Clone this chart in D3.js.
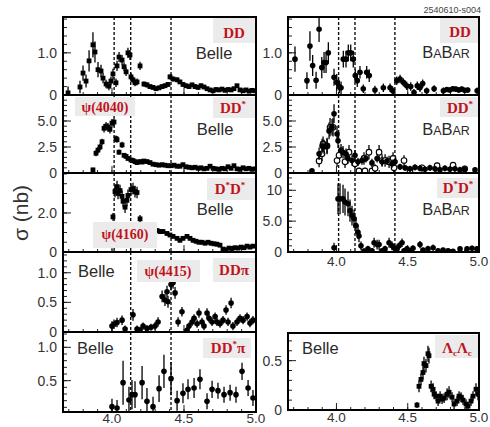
<!DOCTYPE html>
<html>
<head>
<meta charset="utf-8">
<script src="https://cdn.jsdelivr.net/npm/d3@7"></script>
<style>
  body { margin: 0; background: #fff; }
  svg { display: block; }
</style>
</head>
<body>
<div id="chart"></div>
<script>
// resonance positions (GeV) drawn as dashed lines
const resonances = [4.015, 4.13, 4.41];
const xMajor = [4.0, 4.5, 5.0];

// each point: [sqrt(s) GeV, sigma nb, error nb]
const belleDD = [[3.695,0.05,0.15],[3.778,0.19,0.15],[3.799,0.52,0.18],[3.82,0.33,0.15],[3.841,0.81,0.25],[3.868,1.19,0.3],[3.882,1.02,0.25],[3.903,0.6,0.18],[3.924,0.57,0.15],[3.938,0.4,0.12],[3.959,0.26,0.1],[3.979,0.21,0.1],[3.993,0.33,0.1],[4.007,0.5,0.12],[4.028,0.29,0.1],[4.035,0.69,0.12],[4.049,0.9,0.12],[4.07,0.83,0.12],[4.084,0.67,0.1],[4.098,0.55,0.1],[4.111,1.0,0.12],[4.125,0.95,0.12],[4.132,0.43,0.1],[4.146,0.36,0.08],[4.16,0.29,0.08],[4.174,0.31,0.08],[4.195,0.69,0.1],[4.222,0.26,0.06],[4.243,0.24,0.06],[4.264,0.2,0.05],[4.285,0.18,0.05],[4.306,0.15,0.05],[4.327,0.17,0.05],[4.348,0.2,0.05],[4.368,0.22,0.05],[4.389,0.25,0.05],[4.403,0.43,0.06],[4.424,0.38,0.06],[4.452,0.36,0.06],[4.472,0.31,0.05],[4.493,0.25,0.05],[4.514,0.22,0.05],[4.535,0.2,0.05],[4.556,0.24,0.05],[4.577,0.2,0.05],[4.598,0.18,0.05],[4.618,0.22,0.05],[4.639,0.19,0.05],[4.66,0.15,0.04],[4.681,0.12,0.04],[4.702,0.1,0.04],[4.722,0.13,0.04],[4.743,0.12,0.04],[4.764,0.14,0.04],[4.785,0.11,0.04],[4.806,0.13,0.04],[4.827,0.12,0.04],[4.847,0.15,0.04],[4.868,0.22,0.04],[4.889,0.12,0.04],[4.91,0.1,0.04],[4.931,0.12,0.04],[4.952,0.09,0.04],[4.972,0.11,0.04],[4.993,0.1,0.04]];

const belleDDst = [[3.868,0.3,0.2],[3.889,1.9,0.3],[3.903,2.2,0.3],[3.917,2.5,0.3],[3.931,3.0,0.3],[3.945,4.3,0.4],[3.959,4.5,0.4],[3.972,4.4,0.4],[3.986,4.2,0.4],[4.0,4.8,0.4],[4.014,4.9,0.4],[4.028,3.3,0.3],[4.035,3.2,0.3],[4.049,2.0,0.25],[4.07,2.7,0.3],[4.084,1.7,0.2],[4.098,1.6,0.2],[4.111,1.4,0.2],[4.132,1.25,0.15],[4.146,1.2,0.15],[4.16,1.1,0.15],[4.174,1.0,0.15],[4.195,1.1,0.15],[4.209,1.05,0.15],[4.222,1.15,0.15],[4.243,1.1,0.15],[4.264,1.0,0.15],[4.285,0.85,0.15],[4.306,0.8,0.15],[4.327,0.75,0.15],[4.348,0.8,0.15],[4.368,0.75,0.15],[4.389,0.7,0.15],[4.41,0.7,0.15],[4.431,0.75,0.15],[4.452,0.65,0.15],[4.472,0.65,0.15],[4.493,0.8,0.15],[4.514,0.6,0.15],[4.535,0.55,0.15],[4.556,0.5,0.15],[4.577,0.55,0.15],[4.598,0.45,0.15],[4.618,0.5,0.15],[4.639,0.4,0.15],[4.66,0.45,0.15],[4.681,0.65,0.15],[4.702,0.45,0.15],[4.722,0.4,0.15],[4.743,0.35,0.15],[4.764,0.45,0.15],[4.785,0.4,0.15],[4.806,0.6,0.15],[4.827,0.45,0.15],[4.847,0.7,0.15],[4.868,0.4,0.15],[4.889,0.35,0.15],[4.91,0.5,0.15],[4.931,0.4,0.15],[4.952,0.45,0.15],[4.972,0.35,0.15],[4.993,0.4,0.15]];

const belleDstDst = [[4.007,1.8,0.2],[4.021,3.1,0.3],[4.035,3.35,0.3],[4.042,3.0,0.3],[4.056,3.15,0.3],[4.07,2.85,0.3],[4.077,2.6,0.3],[4.091,2.3,0.3],[4.104,2.65,0.3],[4.111,2.9,0.3],[4.132,3.2,0.3],[4.146,3.25,0.3],[4.16,3.1,0.3],[4.174,3.05,0.3],[4.195,1.7,0.2],[4.313,1.1,0.1],[4.334,1.05,0.1],[4.354,1.05,0.1],[4.382,0.95,0.1],[4.403,0.87,0.1],[4.424,0.8,0.1],[4.452,0.7,0.1],[4.472,0.6,0.1],[4.493,0.7,0.1],[4.521,0.8,0.1],[4.542,0.7,0.1],[4.563,0.6,0.1],[4.584,0.55,0.1],[4.604,0.5,0.1],[4.625,0.5,0.1],[4.646,0.45,0.1],[4.667,0.5,0.1],[4.688,0.45,0.1],[4.709,0.42,0.1],[4.729,0.4,0.1],[4.75,0.35,0.1],[4.771,0.15,0.08],[4.792,0.12,0.08],[4.813,0.2,0.08],[4.833,0.18,0.08],[4.854,0.22,0.08],[4.875,0.2,0.08],[4.896,0.25,0.08],[4.917,0.22,0.08],[4.938,0.3,0.08],[4.958,0.25,0.08],[4.979,0.3,0.08]];

const belleDDpi = [[4.0,0.1,0.08],[4.014,0.13,0.08],[4.035,0.16,0.08],[4.07,0.2,0.08],[4.091,0.05,0.06],[4.146,0.29,0.1],[4.174,0.05,0.06],[4.195,0.03,0.06],[4.216,0.1,0.06],[4.243,0.06,0.06],[4.271,0.08,0.06],[4.299,0.1,0.07],[4.32,0.17,0.08],[4.348,0.6,0.1],[4.368,0.54,0.1],[4.382,0.68,0.1],[4.389,0.51,0.1],[4.41,0.8,0.1],[4.424,0.83,0.1],[4.438,0.66,0.1],[4.459,0.17,0.08],[4.486,0.34,0.08],[4.521,0.03,0.06],[4.535,0.1,0.06],[4.556,0.17,0.07],[4.57,0.23,0.07],[4.591,0.14,0.07],[4.604,0.32,0.08],[4.625,0.17,0.07],[4.639,0.1,0.07],[4.66,0.32,0.08],[4.674,0.23,0.07],[4.695,0.17,0.07],[4.716,0.26,0.07],[4.729,0.17,0.07],[4.75,0.14,0.07],[4.771,0.2,0.07],[4.792,0.37,0.08],[4.806,0.17,0.07],[4.827,0.49,0.09],[4.84,0.1,0.07],[4.868,0.17,0.07],[4.889,0.23,0.07],[4.91,0.2,0.07],[4.938,0.26,0.07],[4.958,0.15,0.07],[4.979,0.2,0.07]];

const belleDDstPi = [[4.0,0.11,0.12],[4.035,0.09,0.12],[4.077,0.47,0.33],[4.118,0.21,0.2],[4.139,0.29,0.22],[4.16,0.29,0.2],[4.209,0.47,0.25],[4.243,0.19,0.2],[4.285,0.11,0.15],[4.327,0.38,0.2],[4.361,0.64,0.25],[4.41,0.53,0.25],[4.452,0.2,0.15],[4.493,0.31,0.15],[4.528,0.37,0.15],[4.57,0.39,0.15],[4.611,0.52,0.15],[4.66,0.19,0.12],[4.695,0.37,0.13],[4.736,0.35,0.12],[4.778,0.29,0.12],[4.82,0.32,0.12],[4.861,0.29,0.12],[4.903,0.64,0.13],[4.945,0.39,0.12],[4.979,0.24,0.12]];

const babarDD = [[3.709,0.85,0.3],[3.793,0.34,0.2],[3.814,1.16,0.35],[3.833,0.7,0.25],[3.857,0.35,0.2],[3.878,1.56,0.3],[3.897,0.65,0.25],[3.913,0.77,0.25],[3.927,0.77,0.25],[3.943,1.0,0.25],[3.983,0.42,0.2],[4.002,0.3,0.2],[4.02,0.2,0.15],[4.032,0.17,0.15],[4.048,0.85,0.2],[4.067,0.85,0.2],[4.083,1.0,0.2],[4.1,1.0,0.2],[4.118,0.85,0.2],[4.132,0.46,0.15],[4.146,0.34,0.15],[4.165,0.54,0.15],[4.188,0.15,0.1],[4.212,0.54,0.15],[4.23,0.46,0.15],[4.27,0.12,0.1],[4.329,0.17,0.1],[4.376,0.17,0.1],[4.395,0.1,0.1],[4.423,0.34,0.1],[4.446,0.38,0.1],[4.469,0.3,0.1],[4.493,0.22,0.1],[4.521,0.2,0.1],[4.544,0.06,0.08],[4.567,0.22,0.1],[4.586,0.17,0.1],[4.605,0.27,0.1],[4.633,0.1,0.08],[4.685,0.15,0.08],[4.75,0.1,0.08],[4.774,0.13,0.06],[4.795,0.12,0.06],[4.816,0.15,0.06],[4.837,0.14,0.06],[4.858,0.12,0.06],[4.879,0.14,0.06],[4.9,0.11,0.06],[4.921,0.12,0.06],[4.987,0.1,0.08]];

const babarDDst = [[3.828,0.2,0.1],[3.878,1.85,0.6],[3.899,2.6,0.7],[3.913,2.5,0.7],[3.934,2.6,0.7],[3.948,4.05,0.8],[3.969,4.4,0.8],[3.983,5.7,0.9],[4.004,3.75,0.8],[4.011,3.1,0.7],[4.032,2.2,0.6],[4.046,2.0,0.6],[4.067,1.85,0.5],[4.081,1.4,0.5],[4.109,1.2,0.5],[4.13,1.7,0.5],[4.151,1.07,0.4],[4.179,1.2,0.4],[4.207,1.4,0.4],[4.249,0.97,0.4],[4.285,1.4,0.4],[4.32,1.07,0.4],[4.355,1.16,0.4],[4.39,0.9,0.4],[4.411,1.07,0.4],[4.446,0.6,0.3],[4.481,0.5,0.3],[4.516,0.4,0.3],[4.551,0.55,0.3],[4.586,0.45,0.3],[4.621,0.35,0.3],[4.656,0.5,0.3],[4.691,0.4,0.3],[4.726,0.3,0.3],[4.761,0.45,0.3],[4.796,0.35,0.3],[4.831,0.4,0.3],[4.866,0.3,0.3],[4.9,0.35,0.3],[4.972,0.3,0.2]];

const babarDDstOpen = [[3.878,1.16,0.6],[3.899,1.85,0.7],[3.906,2.8,0.7],[3.934,2.6,0.8],[3.955,4.4,0.9],[3.976,4.4,0.9],[4.004,1.2,0.6],[4.018,1.7,0.6],[4.06,1.07,0.6],[4.088,2.0,0.7],[4.13,0.9,0.6],[4.158,0.2,0.3],[4.193,1.4,0.6],[4.2,0.2,0.3],[4.228,2.0,0.7],[4.249,0.2,0.3],[4.271,0.45,0.4],[4.299,2.0,0.7],[4.32,1.2,0.6],[4.341,1.2,0.6],[4.369,1.07,0.6],[4.397,1.4,0.6],[4.404,0.5,0.4],[4.474,1.2,0.5],[4.516,0.2,0.3],[4.6,0.5,0.3],[4.706,0.7,0.3],[4.818,0.75,0.3],[4.9,0.4,0.3]];

const babarDstDst = [[3.983,0.7,0.8],[4.011,8.6,2.5],[4.025,8.6,2.5],[4.046,8.6,2.3],[4.06,8.1,2.2],[4.081,7.8,2.0],[4.095,6.7,1.8],[4.109,5.9,1.6],[4.123,5.4,1.5],[4.137,4.3,1.3],[4.151,3.2,1.1],[4.158,2.6,1.0],[4.172,1.0,0.7],[4.193,0.15,0.4],[4.221,0.5,0.5],[4.249,0.2,0.4],[4.264,1.5,0.8],[4.285,1.2,0.8],[4.299,1.2,0.8],[4.32,0.2,0.4],[4.341,0.5,0.5],[4.369,1.5,0.8],[4.39,1.0,0.7],[4.404,0.7,0.6],[4.425,0.5,0.5],[4.439,1.0,0.6],[4.46,1.5,0.7],[4.474,0.2,0.4],[4.495,0.5,0.5],[4.516,0.2,0.4],[4.537,0.6,0.5],[4.586,1.2,0.6],[4.607,0.3,0.4],[4.642,0.5,0.5],[4.678,0.7,0.5],[4.713,0.2,0.4],[4.748,0.3,0.4],[4.783,0.2,0.4],[4.818,0.1,0.3],[4.867,0.5,0.4],[4.916,0.5,0.4],[4.951,0.6,0.4],[4.986,0.5,0.4]];

const belleLcLc = [[4.565,0.05,0.03],[4.579,0.24,0.06],[4.593,0.31,0.06],[4.607,0.38,0.07],[4.614,0.47,0.07],[4.628,0.45,0.07],[4.642,0.57,0.08],[4.649,0.55,0.08],[4.664,0.24,0.06],[4.678,0.21,0.06],[4.685,0.16,0.05],[4.699,0.14,0.05],[4.713,0.09,0.05],[4.727,0.14,0.05],[4.741,0.11,0.05],[4.755,0.12,0.05],[4.776,0.16,0.06],[4.79,0.18,0.06],[4.811,0.13,0.05],[4.825,0.06,0.05],[4.846,0.09,0.05],[4.86,0.14,0.05],[4.874,0.13,0.05],[4.888,0.1,0.05],[4.909,0.06,0.05],[4.923,0.04,0.04],[4.944,0.09,0.05],[4.958,0.14,0.05],[4.979,0.21,0.06],[4.993,0.16,0.06]];

const width = 490, height = 427;
const red = "#c1121c";
const boxFill = "#ebebeb";

const svg = d3.select("#chart").append("svg")
    .attr("width", width)
    .attr("height", height)
    .style("font-family", "'Liberation Sans', Arial, Helvetica, sans-serif");

// two columns share the same energy range
const cols = [
    { x0: 63, x1: 256 },
    { x0: 288, x1: 479 }
];
const xDomain = [3.66, 5.0];

// label parts: [text, "sup"|"sub"]
const panels = [
    { col: 0, top: 17, bottom: 95, y: [0, 1.85], ticks: [0, 1.0], minor: 0.2,
      series: [{ data: belleDD, m: "square" }], lines: resonances,
      exp: { name: "Belle", x: 214, y: 59, anchor: "middle" },
      tags: [{ parts: [["D"], ["D"]], box: [213, 18, 43, 25], x: 234, y: 38 }] },
    { col: 0, top: 95, bottom: 173, y: [0, 7.5], ticks: [0, 2.5, 5.0], minor: 0.5,
      series: [{ data: belleDDst, m: "square" }], lines: resonances,
      exp: { name: "Belle", x: 215, y: 135, anchor: "middle" },
      tags: [{ parts: [["D"], ["D"], ["*", "sup"]], box: [213, 97, 43, 21], x: 233, y: 113 },
             { parts: [["ψ(4040)"]], box: [75, 97, 60, 19], x: 105, y: 112, psi: true }] },
    { col: 0, top: 173, bottom: 252, y: [0, 4.05], ticks: [0, 2.0], minor: 0.5,
      series: [{ data: belleDstDst, m: "square" }], lines: resonances,
      exp: { name: "Belle", x: 215, y: 215, anchor: "middle" },
      tags: [{ parts: [["D"], ["*", "sup"], ["D"], ["*", "sup"]], box: [207, 178, 49, 22], x: 230, y: 194 },
             { parts: [["ψ(4160)"]], box: [93, 222, 64, 26], x: 125, y: 239, psi: true }] },
    { col: 0, top: 252, bottom: 332, y: [0, 1.35], ticks: [0, 0.5, 1.0], minor: 0.1,
      series: [{ data: belleDDpi, m: "dot" }], lines: resonances.slice(1),
      exp: { name: "Belle", x: 78, y: 277, anchor: "start" },
      tags: [{ parts: [["ψ(4415)"]], box: [137, 260, 63, 22], x: 168, y: 276, psi: true },
             { parts: [["DDπ"]], box: [213, 258, 43, 24], x: 234, y: 275 }] },
    { col: 0, top: 332, bottom: 412, y: [0.03, 1.23], ticks: [0.5, 1.0], minor: 0.1,
      series: [{ data: belleDDstPi, m: "dot" }], lines: resonances.slice(1), xLabels: 423,
      exp: { name: "Belle", x: 77, y: 354, anchor: "start" },
      tags: [{ parts: [["DD"], ["*", "sup"], ["π"]], box: [203, 338, 48, 20], x: 228, y: 353 }] },
    { col: 1, top: 17, bottom: 95, y: [0, 1.85], ticks: [0, 1.0], minor: 0.2,
      series: [{ data: babarDD, m: "dot" }], lines: resonances,
      exp: { name: "BaBar", x: 446, y: 58 },
      tags: [{ parts: [["D"], ["D"]], box: [440, 18, 38, 25], x: 460, y: 37 }] },
    { col: 1, top: 95, bottom: 173, y: [0, 7.5], ticks: [0, 2.5, 5.0], minor: 0.5,
      series: [{ data: babarDDstOpen, m: "open" }, { data: babarDDst, m: "dot" }], lines: resonances,
      exp: { name: "BaBar", x: 446, y: 135 },
      tags: [{ parts: [["D"], ["D"], ["*", "sup"]], box: [440, 97, 38, 20], x: 460, y: 113 }] },
    { col: 1, top: 173, bottom: 252, y: [0, 12.8], ticks: [0, 5.0, 10], minor: 1,
      series: [{ data: babarDstDst, m: "dot" }], lines: resonances, xLabels: 266,
      exp: { name: "BaBar", x: 446, y: 215 },
      tags: [{ parts: [["D"], ["*", "sup"], ["D"], ["*", "sup"]], box: [437, 178, 41, 20], x: 458, y: 193 }] },
    { col: 1, top: 333, bottom: 410, y: [0, 0.78], ticks: [0, 0.5], minor: 0.1,
      series: [{ data: belleLcLc, m: "square" }], lines: [], xLabels: 422,
      exp: { name: "Belle", x: 302, y: 354, anchor: "start" },
      tags: [{ parts: [["Λ"], ["c", "sub"], ["Λ"], ["c", "sub"]], box: [435, 335, 43, 23], x: 457, y: 353 }] }
];

const fmt = v => v === 0 ? "0" : (v >= 10 ? String(v) : v.toFixed(1));

panels.forEach((p, i) => {
    const c = cols[p.col];
    const x = d3.scaleLinear().domain(xDomain).range([c.x0, c.x1]);
    const y = d3.scaleLinear().domain(p.y).range([p.bottom, p.top]);
    const g = svg.append("g");

    g.append("clipPath").attr("id", "clip" + i)
        .append("rect")
        .attr("x", c.x0).attr("y", p.top)
        .attr("width", c.x1 - c.x0).attr("height", p.bottom - p.top);

    // dashed resonance lines
    g.selectAll("line.res")
        .data(p.lines)
        .enter().append("line")
        .attr("x1", d => x(d)).attr("x2", d => x(d))
        .attr("y1", p.top).attr("y2", p.bottom)
        .attr("stroke", "#111")
        .attr("stroke-width", 1.4)
        .attr("stroke-dasharray", "3,2");

    // y ticks (inside the frame)
    const yMinor = d3.range(Math.ceil(p.y[0] / p.minor) * p.minor, p.y[1], p.minor);
    g.selectAll("line.ym")
        .data(yMinor)
        .enter().append("line")
        .attr("x1", c.x0).attr("x2", c.x0 + 4)
        .attr("y1", d => y(d)).attr("y2", d => y(d))
        .attr("stroke", "#222").attr("stroke-width", 1);
    g.selectAll("line.yM")
        .data(p.ticks)
        .enter().append("line")
        .attr("x1", c.x0).attr("x2", c.x0 + 8)
        .attr("y1", d => y(d)).attr("y2", d => y(d))
        .attr("stroke", "#222").attr("stroke-width", 1);
    g.selectAll("text.yl")
        .data(p.ticks)
        .enter().append("text")
        .attr("x", c.x0 - 6)
        .attr("y", d => y(d) + 5)
        .attr("text-anchor", "end")
        .attr("font-size", 14)
        .attr("fill", "#333")
        .text(fmt);

    // x ticks along the bottom
    const xMinor = d3.range(3.7, 5.001, 0.1);
    g.selectAll("line.xm")
        .data(xMinor)
        .enter().append("line")
        .attr("x1", d => x(d)).attr("x2", d => x(d))
        .attr("y1", p.bottom).attr("y2", p.bottom - 3)
        .attr("stroke", "#222").attr("stroke-width", 1);
    g.selectAll("line.xM")
        .data(xMajor)
        .enter().append("line")
        .attr("x1", d => x(d)).attr("x2", d => x(d))
        .attr("y1", p.bottom).attr("y2", p.bottom - 7)
        .attr("stroke", "#222").attr("stroke-width", 1);
    if (p.xLabels) {
        g.selectAll("text.xl")
            .data(xMajor)
            .enter().append("text")
            .attr("x", d => x(d))
            .attr("y", p.xLabels)
            .attr("text-anchor", "middle")
            .attr("font-size", 13.5)
            .attr("fill", "#333")
            .text(d => d.toFixed(1));
    }

    // data points with error bars
    const plot = g.append("g").attr("clip-path", `url(#clip${i})`);
    p.series.forEach(s => {
        plot.selectAll(null)
            .data(s.data)
            .enter().append("line")
            .attr("x1", d => x(d[0])).attr("x2", d => x(d[0]))
            .attr("y1", d => y(d[1] - d[2])).attr("y2", d => y(d[1] + d[2]))
            .attr("stroke", "#000").attr("stroke-width", 1.3);
        if (s.m === "square") {
            plot.selectAll(null)
                .data(s.data)
                .enter().append("rect")
                .attr("x", d => x(d[0]) - 2.4).attr("y", d => y(d[1]) - 2.4)
                .attr("width", 4.8).attr("height", 4.8)
                .attr("fill", "#000");
        } else {
            plot.selectAll(null)
                .data(s.data)
                .enter().append("circle")
                .attr("cx", d => x(d[0])).attr("cy", d => y(d[1]))
                .attr("r", 2.8)
                .attr("fill", s.m === "open" ? "#fff" : "#000")
                .attr("stroke", "#000")
                .attr("stroke-width", s.m === "open" ? 1.1 : 0);
        }
    });

    // experiment name
    const e = g.append("text")
        .attr("x", p.exp.x).attr("y", p.exp.y)
        .attr("text-anchor", p.exp.anchor || "middle")
        .attr("font-size", 16.5)
        .attr("fill", "#2a2a2a");
    if (p.exp.name === "BaBar") {
        [["B", 16.5], ["A", 12.5], ["B", 16.5], ["A", 12.5], ["R", 12.5]].forEach(([t, fs]) => {
            e.append("tspan").attr("font-size", fs).text(t);
        });
    } else {
        e.text(p.exp.name);
    }

    // red process / resonance tags on grey boxes
    p.tags.forEach(t => {
        g.append("rect")
            .attr("x", t.box[0]).attr("y", t.box[1])
            .attr("width", t.box[2]).attr("height", t.box[3])
            .attr("fill", boxFill);
        const txt = g.append("text")
            .attr("x", t.x).attr("y", t.y)
            .attr("text-anchor", "middle")
            .attr("font-family", "'Liberation Serif', 'Times New Roman', serif")
            .attr("font-weight", "bold")
            .attr("font-size", t.psi ? 14 : 15)
            .attr("fill", red);
        t.parts.forEach(([s, kind]) => {
            const ts = txt.append("tspan").text(s);
            if (kind === "sup") ts.attr("font-size", 9).attr("baseline-shift", 6);
            if (kind === "sub") ts.attr("font-size", 9).attr("baseline-shift", -3);
        });
    });

    // frame
    g.append("rect")
        .attr("x", c.x0).attr("y", p.top)
        .attr("width", c.x1 - c.x0).attr("height", p.bottom - p.top)
        .attr("fill", "none")
        .attr("stroke", "#000")
        .attr("stroke-width", 2);
});

// axis title
svg.append("text")
    .attr("transform", "translate(28,213) rotate(-90)")
    .attr("text-anchor", "middle")
    .attr("font-size", 21)
    .attr("fill", "#333")
    .text("σ (nb)");

// figure id
svg.append("text")
    .attr("x", 481).attr("y", 13)
    .attr("text-anchor", "end")
    .attr("font-size", 9)
    .attr("fill", "#444")
    .text("2540610-s004");
</script>
</body>
</html>
